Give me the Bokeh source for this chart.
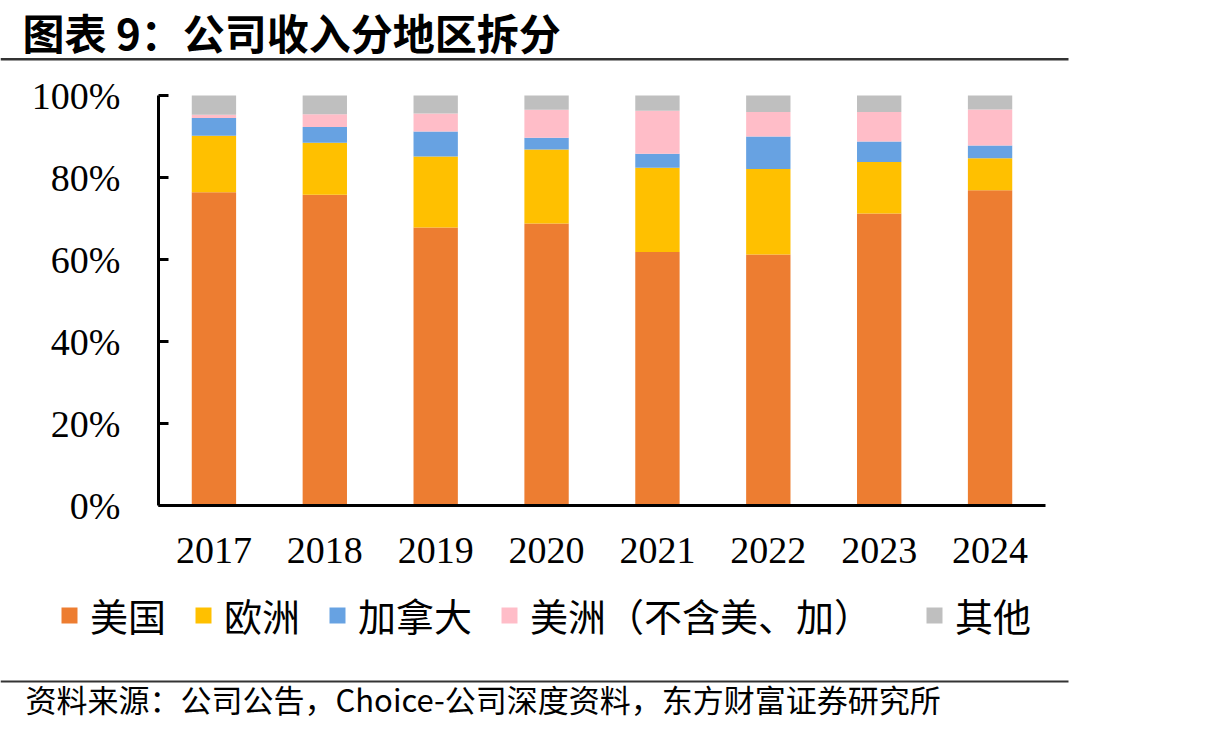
from bokeh.plotting import figure
from bokeh.models import (Range1d, LinearAxis, FixedTicker, PrintfTickFormatter,
                          Legend, LegendItem, Label, BoxAnnotation, ColumnDataSource)
from bokeh.embed import file_html
from bokeh.resources import INLINE

# Revenue share by region, percent of total
years = ["2017", "2018", "2019", "2020", "2021", "2022", "2023", "2024"]
us = [76.4, 75.8, 67.8, 68.8, 61.8, 61.2, 71.2, 76.9]
europe = [13.8, 12.7, 17.3, 18.0, 20.6, 20.9, 12.6, 7.8]
canada = [4.3, 3.8, 6.1, 2.9, 3.4, 7.9, 5.0, 3.1]
americas_other = [0.8, 3.1, 4.4, 6.8, 10.5, 6.0, 7.2, 8.8]
others = [4.7, 4.6, 4.4, 3.5, 3.7, 4.0, 4.0, 3.4]

series_keys = ["us", "europe", "canada", "americas_other", "others"]
series_names = ["美国", "欧洲", "加拿大", "美洲（不含美、加）", "其他"]
series_colors = ["#ED7D31", "#FFC000", "#67A2E2", "#FFBDC8", "#BFBFBF"]
y_ticks = [0, 20, 40, 60, 80, 100]

title_text = "图表 9：公司收入分地区拆分"
source_text = "资料来源：公司公告，Choice-公司深度资料，东方财富证券研究所"

W, H = 1217, 735
CJK = "Noto Sans CJK SC"

# plot area on the page: axes meet at (158, 505); 100% sits at y=95; axis ends at x=1045
AX_LEFT, AX_RIGHT, AX_BOTTOM, AX_TOP = 158, 1045, 505, 95
n = len(years)
px_per_cat = (AX_RIGHT - AX_LEFT) / n
px_per_pct = (AX_BOTTOM - AX_TOP) / 100

# one slot per year, bar centred in its slot
pos = [i + 0.5 for i in range(n)]

src = ColumnDataSource(dict(pos=pos, us=us, europe=europe, canada=canada,
                            americas_other=americas_other, others=others))

p = figure(width=W, height=H,
           x_range=Range1d(-AX_LEFT / px_per_cat, (W - AX_LEFT) / px_per_cat),
           y_range=Range1d(-(H - AX_BOTTOM) / px_per_pct, AX_BOTTOM / px_per_pct),
           output_backend="svg", toolbar_location=None,
           x_axis_location=None, y_axis_location=None,
           min_border=0, min_border_left=0, min_border_right=0,
           min_border_top=0, min_border_bottom=0)
p.outline_line_color = None
p.xgrid.visible = False
p.ygrid.visible = False
p.background_fill_color = "white"
p.border_fill_color = "white"

bars = p.vbar_stack(series_keys, x="pos", width=0.4, source=src,
                    color=series_colors, line_color=None)

# value axis, drawn at the left end of the category span
yaxis = LinearAxis(fixed_location=0, bounds=(0, 100),
                   ticker=FixedTicker(ticks=y_ticks),
                   formatter=PrintfTickFormatter(format="%d%%"),
                   major_tick_in=10, major_tick_out=0, major_tick_line_width=3,
                   minor_tick_line_color=None, major_label_standoff=38)
# category axis along 0%
xaxis = LinearAxis(fixed_location=0, bounds=(0, n),
                   ticker=FixedTicker(ticks=pos),
                   major_label_overrides={x: y for x, y in zip(pos, years)},
                   major_tick_in=0, major_tick_out=0, major_tick_line_color=None,
                   minor_tick_line_color=None, major_label_standoff=32)
for ax in (xaxis, yaxis):
    ax.axis_line_color = "black"
    ax.axis_line_width = 3
    ax.major_label_text_font = "Liberation Serif"
    ax.major_label_text_font_size = "38px"
    ax.major_label_text_color = "black"
p.add_layout(yaxis, "left")
p.add_layout(xaxis, "below")


def sy(y_page):
    """Page pixel row (from top) to screen units (from bottom)."""
    return H - y_page


def rule(top, bottom, right=1068):
    return BoxAnnotation(left=0, right=right, top=sy(top), bottom=sy(bottom),
                         left_units="screen", right_units="screen",
                         top_units="screen", bottom_units="screen",
                         fill_color="#333333", fill_alpha=1, line_color=None)


# heading and its rule
p.add_layout(Label(x=22, y=sy(31), x_units="screen", y_units="screen",
                   text=title_text, text_font=CJK, text_font_size="42px",
                   text_font_style="bold", text_baseline="middle", text_color="black"))
p.add_layout(rule(57.5, 60))

# legend row: first four entries, then the last one set a bit further right
legend_style = dict(orientation="horizontal",
                    glyph_width=20, glyph_height=20, label_standoff=11, spacing=27,
                    padding=0, margin=0, border_line_color=None, background_fill_alpha=0,
                    label_text_font=CJK, label_text_font_size="38px",
                    label_text_color="black")
items = [LegendItem(label=s, renderers=[r]) for s, r in zip(series_names, bars)]
p.add_layout(Legend(items=items[:-1], location=(59, sy(642)), **legend_style))
p.add_layout(Legend(items=items[-1:], location=(924, sy(642)), **legend_style))

# source note and its rule
p.add_layout(rule(680, 682))
p.add_layout(Label(x=25, y=sy(698), x_units="screen", y_units="screen",
                   text=source_text, text_font=CJK, text_font_size="31px",
                   text_baseline="middle", text_color="black"))

open("out.html", "w").write(file_html(p, INLINE))
